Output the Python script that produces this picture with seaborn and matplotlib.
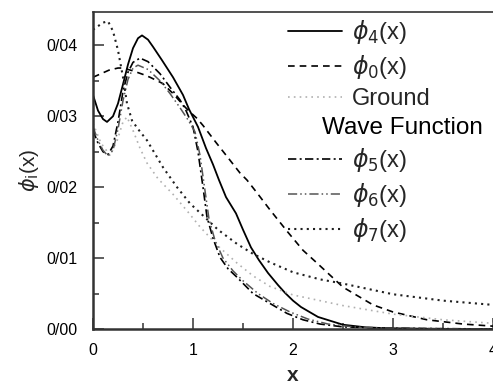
import numpy as np
import pandas as pd
import matplotlib
matplotlib.use("Agg")
import matplotlib.pyplot as plt
import seaborn as sns
from matplotlib.ticker import MultipleLocator, FuncFormatter
from matplotlib.lines import Line2D

# ---- data ----
x_phi4 = [0, 0.05, 0.1, 0.14, 0.2, 0.25, 0.3, 0.35, 0.4, 0.45, 0.49, 0.55, 0.6, 0.69, 0.8, 0.9,
          0.96, 1.05, 1.13, 1.2, 1.26, 1.33, 1.43, 1.5, 1.58, 1.66, 1.75, 1.85, 1.92, 2.0, 2.08,
          2.25, 2.5, 2.75, 3.0, 3.5, 4.0]
y_phi4 = [0.0330, 0.0308, 0.0296, 0.0292, 0.0300, 0.0318, 0.0345, 0.0373, 0.0396, 0.0410, 0.0414,
          0.0408, 0.0398, 0.0379, 0.0355, 0.0330, 0.0310, 0.0285, 0.0255, 0.0232, 0.0210, 0.0186,
          0.0163, 0.0140, 0.0115, 0.0097, 0.0079, 0.0062, 0.0051, 0.0040, 0.0031, 0.0017, 0.0006,
          0.0002, 0.0001, 0.0, 0.0]

x_phi0 = [0, 0.08, 0.16, 0.25, 0.3, 0.4, 0.5, 0.57, 0.7, 0.8, 0.92, 0.97, 1.04, 1.1, 1.23, 1.37,
          1.47, 1.54, 1.64, 1.77, 1.94, 2.1, 2.24, 2.5, 2.8, 3.0, 3.34, 3.7, 4.0]
y_phi0 = [0.0355, 0.0360, 0.0365, 0.0368, 0.0368, 0.0364, 0.0359, 0.0355, 0.0346, 0.0332, 0.0313,
          0.0306, 0.0297, 0.0287, 0.0263, 0.0238, 0.0220, 0.0210, 0.0192, 0.0168, 0.0138, 0.0111,
          0.0093, 0.0059, 0.0034, 0.0024, 0.0013, 0.0007, 0.0004]

x_ground = [0, 0.08, 0.17, 0.24, 0.3, 0.34, 0.4, 0.47, 0.54, 0.65, 0.8, 0.95, 1.07, 1.25, 1.44,
            1.6, 1.77, 2.0, 2.27, 2.5, 3.0, 3.5, 4.0]
y_ground = [0.0290, 0.0262, 0.0245, 0.0265, 0.0292, 0.0299, 0.0280, 0.0255, 0.0234, 0.0212, 0.0190,
            0.0165, 0.0144, 0.0117, 0.0093, 0.0075, 0.0060, 0.0048, 0.0040, 0.0033, 0.0021, 0.0013,
            0.0008]

x_phi5 = [0, 0.05, 0.1, 0.15, 0.2, 0.25, 0.3, 0.35, 0.4, 0.47, 0.55, 0.67, 0.77, 0.87, 0.93, 1.0,
          1.05, 1.1, 1.14, 1.2, 1.27, 1.35, 1.44, 1.6, 1.77, 1.94, 2.1, 2.27, 2.5, 3.0, 4.0]
y_phi5 = [0.0280, 0.0262, 0.0250, 0.0246, 0.0258, 0.0292, 0.0335, 0.0362, 0.0376, 0.0382, 0.0377,
          0.0360, 0.0341, 0.0323, 0.0308, 0.0285, 0.0250, 0.0200, 0.0158, 0.0128, 0.0101, 0.0085,
          0.0073, 0.0050, 0.0036, 0.0022, 0.0013, 0.0007, 0.0003, 0.0001, 0.0]

x_phi6 = [0, 0.05, 0.1, 0.15, 0.2, 0.25, 0.3, 0.35, 0.4, 0.45, 0.55, 0.67, 0.77, 0.87, 0.95, 1.02,
          1.07, 1.12, 1.16, 1.22, 1.3, 1.4, 1.5, 1.65, 1.8, 1.97, 2.15, 2.35, 2.6, 3.0, 4.0]
y_phi6 = [0.0285, 0.0266, 0.0252, 0.0244, 0.0252, 0.0282, 0.0322, 0.0352, 0.0368, 0.0372, 0.0366,
          0.0350, 0.0332, 0.0312, 0.0295, 0.0278, 0.0245, 0.0195, 0.0155, 0.0125, 0.0100, 0.0082,
          0.0068, 0.0050, 0.0036, 0.0024, 0.0014, 0.0007, 0.0003, 0.0001, 0.0]

x_phi7 = [0, 0.05, 0.1, 0.15, 0.2, 0.25, 0.3, 0.34, 0.39, 0.45, 0.54, 0.62, 0.7, 0.84, 0.97, 1.1,
          1.25, 1.44, 1.6, 1.77, 2.0, 2.27, 2.5, 3.0, 3.5, 4.0]
y_phi7 = [0.0422, 0.0427, 0.0432, 0.0434, 0.0420, 0.0393, 0.0355, 0.0318, 0.0294, 0.0282, 0.0266,
          0.0247, 0.0228, 0.0200, 0.0177, 0.0160, 0.0140, 0.0120, 0.0106, 0.0094, 0.0080, 0.0070,
          0.0064, 0.0049, 0.0040, 0.0034]

labels = [r'$\phi_4$(x)', r'$\phi_0$(x)', 'Ground',
          r'$\phi_5$(x)', r'$\phi_6$(x)', r'$\phi_7$(x)']
ground_line2 = 'Wave Function'
x_ticks = [0, 1, 2, 3, 4]
y_ticks = [0.00, 0.01, 0.02, 0.03, 0.04]

# ---- styling ----
sns.set_theme(style="ticks")
plt.rcParams['font.family'] = ['Liberation Sans', 'DejaVu Sans']
plt.rcParams['mathtext.fontset'] = 'dejavusans'

fig = plt.figure(figsize=(4.93, 3.85), dpi=100)
ax = fig.add_axes([93/493, 1-329/385, 1-93/493, (329-12)/385])

series = [
    (x_phi4, y_phi4, dict(color='black', lw=1.3, ls='-')),
    (x_phi0, y_phi0, dict(color='black', lw=1.2, ls=(0, (4, 3)))),
    (x_ground, y_ground, dict(color='#b0b0b0', lw=1.2, ls=(0, (1, 2.5)))),
    (x_phi5, y_phi5, dict(color='black', lw=1.2, ls=(0, (5, 2, 1.2, 2)))),
    (x_phi6, y_phi6, dict(color='#555555', lw=1.1, ls=(0, (6, 2, 1, 2, 1, 2)))),
    (x_phi7, y_phi7, dict(color='#202020', lw=1.5, ls=(0, (1, 2)))),
]

for (xs, ys, st), lab in zip(series, labels):
    df = pd.DataFrame({'x': xs, 'y': ys})
    sns.lineplot(data=df, x='x', y='y', ax=ax, label=lab, sort=False,
                 estimator=None, color=st['color'], linewidth=st['lw'], linestyle=st['ls'])

ax.set_xlim(0, 4)
ax.set_ylim(0, 0.0447)
ax.set_xticks(x_ticks)
ax.set_yticks(y_ticks)
ax.xaxis.set_minor_locator(MultipleLocator(0.5))
ax.yaxis.set_minor_locator(MultipleLocator(0.005))
ax.yaxis.set_major_formatter(FuncFormatter(lambda v, p: f"{v:.2f}".replace('.', '/')))
ax.xaxis.set_major_formatter(FuncFormatter(lambda v, p: f"{v:g}"))
ax.tick_params(axis='both', which='major', direction='in', length=8, width=1.1,
               labelsize=11.5, color='#333333', labelcolor='black')
ax.tick_params(axis='y', which='major', pad=11)
ax.tick_params(axis='x', which='major', pad=10)
ax.tick_params(axis='both', which='minor', direction='in', length=4, width=1.1, color='#333333')
ax.tick_params(axis='y', which='both', right=False)
ax.tick_params(axis='x', which='both', top=False)

for s in ['left', 'bottom']:
    ax.spines[s].set_linewidth(1.8)
    ax.spines[s].set_color('#333333')
ax.spines['top'].set_visible(True)
ax.spines['top'].set_linewidth(1.2)
ax.spines['top'].set_color('#333333')
ax.spines['right'].set_visible(False)

ax.set_xlabel('x', fontsize=15, fontweight='bold', labelpad=6)
ax.set_ylabel(r'$\phi_{\mathrm{i}}$(x)', fontsize=15, labelpad=4)

# legend: insert a blank row after "Ground" for the second line of its label
handles, labs = ax.get_legend_handles_labels()
blank = Line2D([], [], color='none')
handles = handles[:3] + [blank] + handles[3:]
labs = labs[:3] + [' '] + labs[3:]
leg = ax.legend(handles, labs, loc='upper left', bbox_to_anchor=(288/493, 1 - 18/385),
                bbox_transform=fig.transFigure, frameon=False, fontsize=17,
                handlelength=2.3, handletextpad=0.42, labelspacing=0.3,
                borderpad=0, borderaxespad=0)

fig.canvas.draw()
# place second line of the ground-state label under "Ground", starting further left
txts = leg.get_texts()
bb_b = txts[3].get_window_extent()
fig.text(322/493, ((bb_b.y0 + bb_b.y1) / 2) / fig.bbox.height, ground_line2,
         fontsize=17.5, ha='left', va='center', color='black')

fig.savefig('out.png', dpi=100, facecolor='white')
